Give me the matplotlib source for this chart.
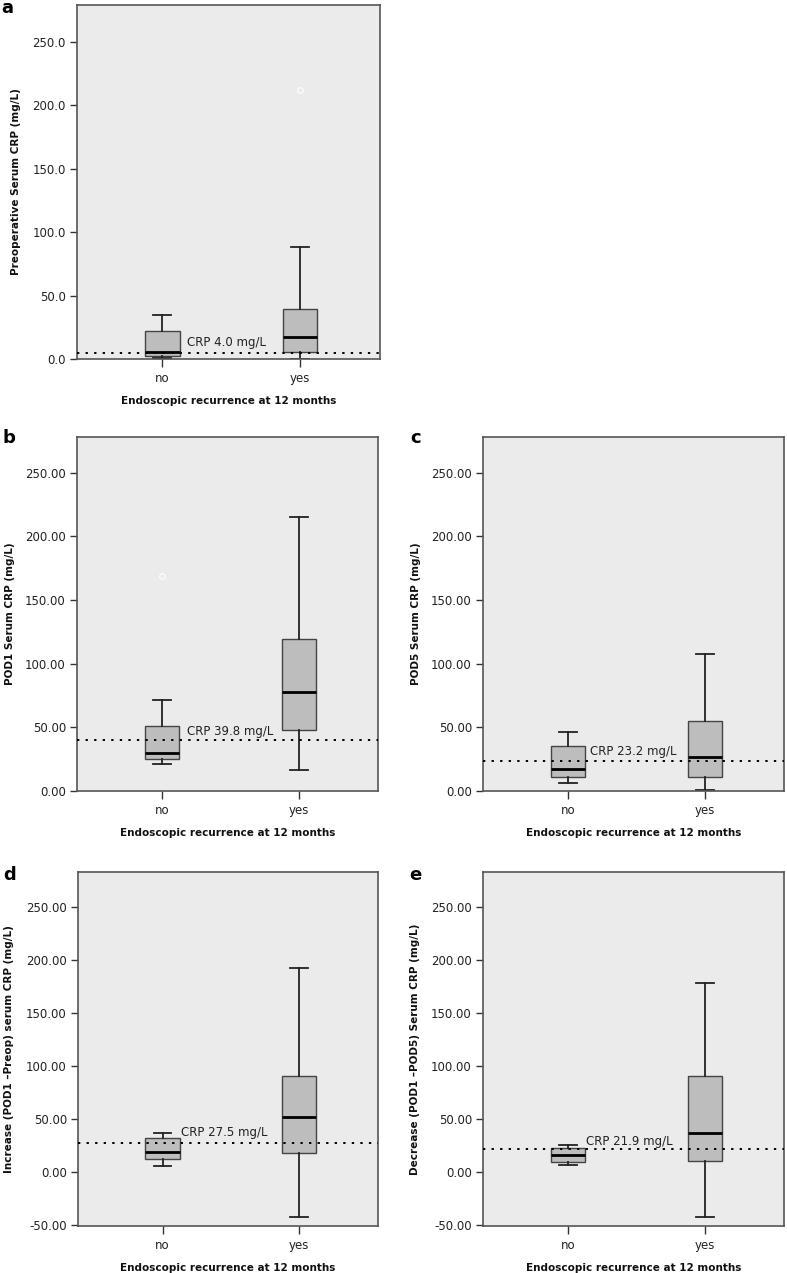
import matplotlib
matplotlib.use("Agg")
import matplotlib.pyplot as plt

groups = ["no", "yes"]
xlabel = "Endoscopic recurrence at 12 months"

# five-number summaries per group: (lower whisker, Q1, median, Q3, upper whisker)
a_no = (0.5, 2.4, 5.5, 22.1, 34.4)
a_yes = (0.0, 5.8, 17.6, 39.1, 88.5)
a_out = [[], [212.0]]

b_no = (21.0, 25.2, 30.1, 51.1, 71.8)
b_yes = (16.2, 48.0, 77.8, 119.2, 215.4)
b_out = [[168.8], []]

c_no = (6.6, 11.0, 17.6, 35.1, 46.4)
c_yes = (0.5, 10.7, 26.7, 55.0, 107.2)
c_out = [[], []]

d_no = (6.0, 12.3, 19.5, 32.1, 37.1)
d_yes = (-42.1, 18.6, 51.9, 90.3, 192.5)
d_out = [[], []]

e_no = (6.6, 10.1, 16.0, 23.0, 25.5)
e_yes = (-42.1, 10.7, 37.1, 91.2, 178.0)
e_out = [[], []]

cutoffs = [5.0, 39.8, 23.8, 27.7, 21.7]
cutoff_text = ["CRP 4.0 mg/L", "CRP 39.8 mg/L", "CRP 23.2 mg/L",
               "CRP 27.5 mg/L", "CRP 21.9 mg/L"]
ylabels = ["Preoperative Serum CRP (mg/L)", "POD1 Serum CRP (mg/L)",
           "POD5 Serum CRP (mg/L)", "Increase (POD1 \u2013Preop) serum CRP (mg/L)",
           "Decrease (POD1 \u2013POD5) Serum CRP (mg/L)"]
letters = ["a", "b", "c", "d", "e"]
yticks_ab = [0, 50, 100, 150, 200, 250]
yticks_de = [-50, 0, 50, 100, 150, 200, 250]

W, H = 787, 1273
fig = plt.figure(figsize=(W / 100, H / 100), dpi=100)
fig.patch.set_facecolor("white")

# axes boxes in pixels: left, top, right, bottom
boxes = [(77, 5, 380, 359), (77, 437, 378, 791), (483, 437, 784, 791),
         (78, 872, 378, 1226), (483, 872, 784, 1226)]
ylims = [(0, 279), (0, 278), (0, 278), (-50.6, 283), (-50.6, 283)]
fmts = ["{:.1f}", "{:.2f}", "{:.2f}", "{:.2f}", "{:.2f}"]
ticks = [yticks_ab, yticks_ab, yticks_ab, yticks_de, yticks_de]
data = [(a_no, a_yes, a_out), (b_no, b_yes, b_out), (c_no, c_yes, c_out),
        (d_no, d_yes, d_out), (e_no, e_yes, e_out)]
text_pos = [(1.18, 13.1), (1.185, 46.4), (1.162, 30.7), (1.133, 37.7), (1.133, 29.2)]
ylab_x = [-0.185, -0.206, -0.206, -0.213, -0.209]
letter_pos = [(1, 13), (2, 443), (410, 443), (3, 880), (409, 880)]

for i in range(5):
    l, t, r, b = boxes[i]
    ax = fig.add_axes([l / W, 1 - b / H, (r - l) / W, (b - t) / H])
    ax.set_facecolor("#ebebeb")
    no, yes, outs = data[i]
    stats = []
    for lab, s, o in zip(groups, (no, yes), outs):
        stats.append(dict(label=lab, whislo=s[0], q1=s[1], med=s[2], q3=s[3],
                          whishi=s[4], fliers=o))
    ax.bxp(stats, positions=[1, 2], widths=0.25, patch_artist=True,
           boxprops=dict(facecolor="#bdbdbd", edgecolor="#444444", linewidth=1.0),
           medianprops=dict(color="black", linewidth=2.0),
           whiskerprops=dict(color="#222222", linewidth=1.3),
           capprops=dict(color="#222222", linewidth=1.3),
           capwidths=0.13,
           flierprops=dict(marker="o", markersize=4, markerfacecolor="none",
                           markeredgecolor="white", markeredgewidth=0.8))
    ax.axhline(cutoffs[i], color="black", linestyle=(0, (1.2, 3.2)), linewidth=1.4,
               zorder=3)
    ax.text(text_pos[i][0], text_pos[i][1], cutoff_text[i], fontsize=8.5,
            color="#222222", va="center", ha="left")
    ax.set_xlim(0.38, 2.58)
    ax.set_ylim(*ylims[i])
    ax.set_yticks(ticks[i])
    ax.set_yticklabels([fmts[i].format(v) for v in ticks[i]])
    ax.set_xticks([1, 2])
    ax.set_xticklabels(groups)
    ax.tick_params(axis="both", labelsize=8.5, colors="#333333", length=5,
                   width=1.0, labelcolor="#222222", pad=3)
    ax.tick_params(axis="x", length=6, pad=3.5)
    for sp in ax.spines.values():
        sp.set_color("#555555")
        sp.set_linewidth(1.2)
    ax.set_ylabel(ylabels[i], fontsize=7.5, fontweight="bold", color="#111111")
    ax.yaxis.set_label_coords(ylab_x[i], 0.5)
    ax.set_xlabel(xlabel, fontsize=7.5, fontweight="bold", color="#111111",
                  labelpad=8)
    fig.text(letter_pos[i][0] / W, 1 - letter_pos[i][1] / H, letters[i],
             fontsize=13, fontweight="bold", va="baseline", ha="left")

fig.savefig("out.png", dpi=100)
